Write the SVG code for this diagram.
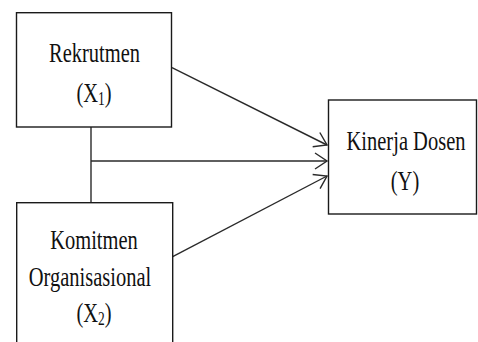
<svg xmlns="http://www.w3.org/2000/svg" width="478" height="342" viewBox="0 0 478 342">
<style>
.box{fill:#fff;stroke:#1a1a1a;stroke-width:1.4}
.ln{fill:none;stroke:#2a2a2a;stroke-width:1.4}
.t{font-family:"Liberation Serif","Times New Roman",serif;font-size:20.5px;fill:#111;text-anchor:middle}
.sub{font-size:13.5px}
</style>
<defs>
<marker id="ah" markerUnits="userSpaceOnUse" markerWidth="16" markerHeight="22" refX="13" refY="11" orient="auto" viewBox="0 0 16 22">
<path d="M1,3 L13,11 L1,19" fill="none" stroke="#2a2a2a" stroke-width="1.4"/>
</marker>
</defs>
<rect width="478" height="342" fill="#fff"/>
<g id="connectors">
<path class="ln" d="M91,127 V202.7"/>
<path class="ln" d="M91,161 H327" marker-end="url(#ah)"/>
<path class="ln" d="M172,67.7 L327,145" marker-end="url(#ah)"/>
<path class="ln" d="M172.7,256.7 L327,176" marker-end="url(#ah)"/>
</g>
<g id="rekrutmen">
<rect class="box" x="16.5" y="12.7" width="155" height="114.3"/>
<text class="t" transform="translate(94.5,62.3) scale(1,1.32)">Rekrutmen</text>
<text class="t" transform="translate(94,101.7) scale(1,1.32)">(X<tspan class="sub" dy="2.3">1</tspan><tspan dy="-2.3">)</tspan></text>
</g>
<g id="komitmen">
<rect class="box" x="16.7" y="202.7" width="156" height="150"/>
<text class="t" transform="translate(94,249.3) scale(1,1.32)">Komitmen</text>
<text class="t" transform="translate(90,286) scale(1,1.32)">Organisasional</text>
<text class="t" transform="translate(94,321.7) scale(1,1.32)">(X<tspan class="sub" dy="2.3">2</tspan><tspan dy="-2.3">)</tspan></text>
</g>
<g id="kinerja">
<rect class="box" x="328.5" y="100" width="148" height="114"/>
<text class="t" transform="translate(406,150) scale(1,1.32)">Kinerja Dosen</text>
<text class="t" transform="translate(405,190) scale(1,1.32)">(Y)</text>
</g>
</svg>
